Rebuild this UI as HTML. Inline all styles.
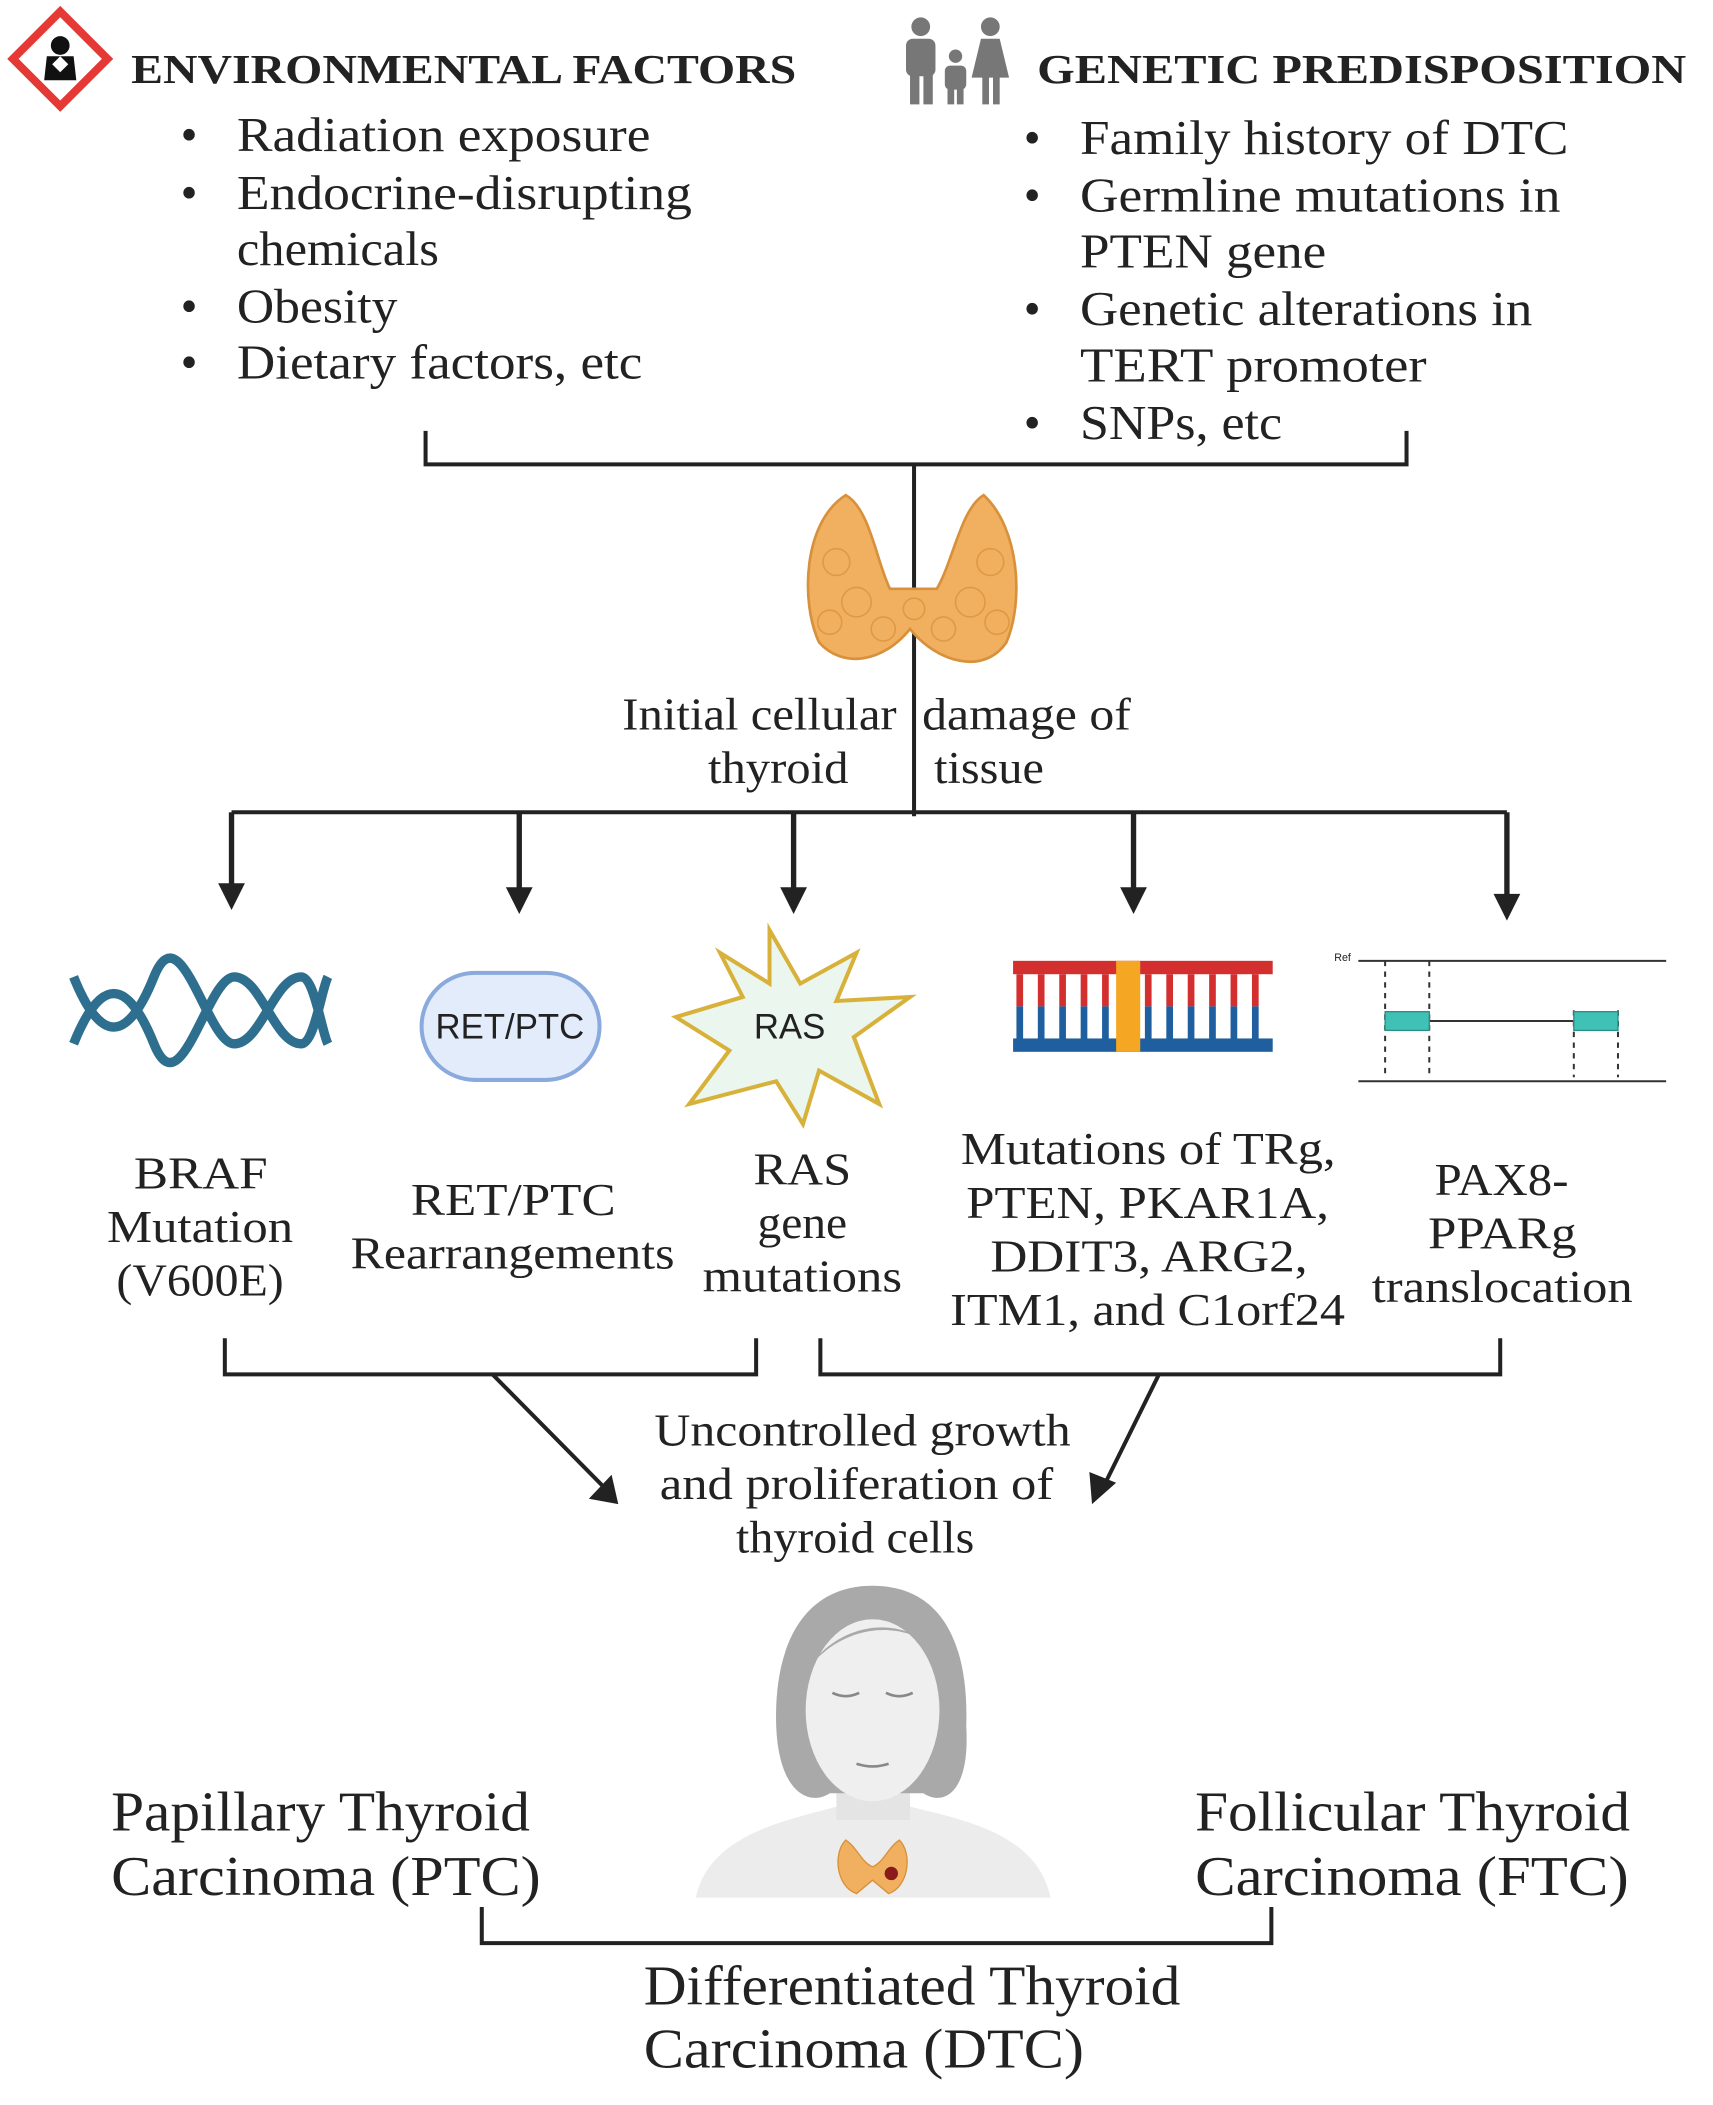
<!DOCTYPE html>
<html><head><meta charset="utf-8"><style>
html,body{margin:0;padding:0;background:#fff;}
svg{display:block;}
text{font-family:"Liberation Serif",serif;fill:#222;}
.s{font-family:"Liberation Sans",sans-serif;}
</style></head><body>
<svg width="1713" height="2105" viewBox="0 0 1280 1573" preserveAspectRatio="none" xmlns="http://www.w3.org/2000/svg">
<g transform="translate(45,44)">
<rect x="-25" y="-25" width="50" height="50" transform="rotate(45)" fill="#fff" stroke="#e53935" stroke-width="6"/>
<circle cx="0" cy="-10" r="7" fill="#111"/>
<path d="M-12 16 L-10 -2 L10 -2 L12 16 Z" fill="#111"/>
<path d="M-6 4 L0 -2 L6 4 L0 10Z" fill="#fff"/>
</g>
<g lengthAdjust="spacingAndGlyphs">
<text x="98" y="62" font-size="31" font-weight="bold" textLength="497" lengthAdjust="spacingAndGlyphs">ENVIRONMENTAL FACTORS</text>
<g font-size="36">
<text x="135" y="113">•</text><text x="177" y="113" textLength="309" lengthAdjust="spacingAndGlyphs">Radiation exposure</text>
<text x="135" y="156">•</text><text x="177" y="156" textLength="340" lengthAdjust="spacingAndGlyphs">Endocrine-disrupting</text>
<text x="177" y="198" textLength="151" lengthAdjust="spacingAndGlyphs">chemicals</text>
<text x="135" y="241">•</text><text x="177" y="241" textLength="120" lengthAdjust="spacingAndGlyphs">Obesity</text>
<text x="135" y="283">•</text><text x="177" y="283" textLength="303" lengthAdjust="spacingAndGlyphs">Dietary factors, etc</text>
</g>
</g>
<g fill="#777">
<circle cx="688" cy="20" r="7"/><rect x="677" y="29" width="22" height="28" rx="5"/><rect x="680" y="50" width="7" height="28"/><rect x="690" y="50" width="7" height="28"/>
<circle cx="714" cy="42" r="5"/><rect x="706" y="49" width="16" height="18" rx="4"/><rect x="708" y="62" width="5" height="16"/><rect x="715" y="62" width="5" height="16"/>
<circle cx="740" cy="20" r="7"/><path d="M733 29 L747 29 L754 58 L726 58Z"/><rect x="734" y="55" width="5" height="23"/><rect x="742" y="55" width="5" height="23"/>
</g>
<text x="775" y="62" font-size="31" font-weight="bold" textLength="485" lengthAdjust="spacingAndGlyphs">GENETIC PREDISPOSITION</text>
<g font-size="36">
<text x="765" y="115">•</text><text x="807" y="115" textLength="365" lengthAdjust="spacingAndGlyphs">Family history of DTC</text>
<text x="765" y="158">•</text><text x="807" y="158" textLength="359" lengthAdjust="spacingAndGlyphs">Germline mutations in</text>
<text x="807" y="200" textLength="184" lengthAdjust="spacingAndGlyphs">PTEN gene</text>
<text x="765" y="243">•</text><text x="807" y="243" textLength="338" lengthAdjust="spacingAndGlyphs">Genetic alterations in</text>
<text x="807" y="285" textLength="259" lengthAdjust="spacingAndGlyphs">TERT promoter</text>
<text x="765" y="328">•</text><text x="807" y="328" textLength="151" lengthAdjust="spacingAndGlyphs">SNPs, etc</text>
</g>
<g stroke="#222" stroke-width="3" fill="none">
<path d="M318 322 V347 H1051 V322"/>
<path d="M683 347 V610"/>
<path d="M173 607 H1126"/>
<path d="M168 1000 V1027 H565 V1000"/>
<path d="M613 1000 V1027 H1121 V1000"/>
<path d="M368 1027 L450 1110"/>
<path d="M866 1027 L826 1108"/>
<path d="M360 1425 V1452 H950 V1425"/>
</g>
<g fill="#222">
<path d="M163 660 L183 660 L173 680Z"/><rect x="171" y="607" width="4" height="55"/>
<path d="M378 663 L398 663 L388 683Z"/><rect x="386" y="607" width="4" height="58"/>
<path d="M583 663 L603 663 L593 683Z"/><rect x="591" y="607" width="4" height="58"/>
<path d="M837 663 L857 663 L847 683Z"/><rect x="845" y="607" width="4" height="58"/>
<path d="M1116 668 L1136 668 L1126 688Z"/><rect x="1124" y="607" width="4" height="63"/>
<path d="M440 1120 L462 1124 L457 1102Z"/>
<path d="M816 1124 L834 1108 L814 1100Z"/>
</g>
<g fill="#f0b060" stroke="#d9903a" stroke-width="2">
<path d="M632 370 C600 390 598 450 612 480 C630 500 660 495 680 470 C700 495 735 505 752 480 C765 450 762 395 735 370 C718 380 712 420 700 440 L665 440 C655 420 650 380 632 370Z"/>
</g>
<g fill="none" stroke="#d9903a" stroke-width="1.2" opacity="0.7">
<circle cx="625" cy="420" r="10"/><circle cx="640" cy="450" r="11"/><circle cx="620" cy="465" r="9"/><circle cx="660" cy="470" r="9"/>
<circle cx="740" cy="420" r="10"/><circle cx="725" cy="450" r="11"/><circle cx="745" cy="465" r="9"/><circle cx="705" cy="470" r="9"/><circle cx="683" cy="455" r="8"/>
</g>
<g font-size="34">
<text x="465" y="545" textLength="205" lengthAdjust="spacingAndGlyphs">Initial cellular</text>
<text x="529" y="585" textLength="105" lengthAdjust="spacingAndGlyphs">thyroid</text>
<text x="689" y="545" textLength="156" lengthAdjust="spacingAndGlyphs">damage of</text>
<text x="698" y="585" textLength="82" lengthAdjust="spacingAndGlyphs">tissue</text>
</g>
<g stroke="#2e6e8e" stroke-width="7" fill="none">
<path d="M55 780 C75 730 95 730 115 780 C135 830 155 730 175 730 C195 730 205 780 225 780 C235 780 240 740 245 730"/>
<path d="M55 730 C75 780 95 780 115 730 C135 680 155 780 175 780 C195 780 205 730 225 730 C235 730 240 770 245 780"/>
</g>
<rect x="315" y="727" width="133" height="80" rx="40" fill="#e3ecfb" stroke="#8aa9dd" stroke-width="3"/>
<text class="s" x="381" y="776" font-size="26" text-anchor="middle">RET/PTC</text>
<polygon points="575,695 598,735 640,712 625,748 680,745 638,775 657,825 612,800 600,840 580,808 515,825 545,785 505,760 555,745 538,712 575,735" fill="#eaf6ee" stroke="#d8b13a" stroke-width="3"/>
<text class="s" x="590" y="776" font-size="26" text-anchor="middle">RAS</text>
<rect x="757" y="718" width="194" height="10" fill="#d32f2f"/>
<rect x="757" y="776" width="194" height="10" fill="#1f5fa0"/>
<g stroke-width="5">
<g stroke="#d32f2f"><line x1="762" y1="728" x2="762" y2="752"/><line x1="778" y1="728" x2="778" y2="752"/><line x1="794" y1="728" x2="794" y2="752"/><line x1="810" y1="728" x2="810" y2="752"/><line x1="826" y1="728" x2="826" y2="752"/><line x1="858" y1="728" x2="858" y2="752"/><line x1="874" y1="728" x2="874" y2="752"/><line x1="890" y1="728" x2="890" y2="752"/><line x1="906" y1="728" x2="906" y2="752"/><line x1="922" y1="728" x2="922" y2="752"/><line x1="938" y1="728" x2="938" y2="752"/></g>
<g stroke="#1f5fa0"><line x1="762" y1="752" x2="762" y2="776"/><line x1="778" y1="752" x2="778" y2="776"/><line x1="794" y1="752" x2="794" y2="776"/><line x1="810" y1="752" x2="810" y2="776"/><line x1="826" y1="752" x2="826" y2="776"/><line x1="858" y1="752" x2="858" y2="776"/><line x1="874" y1="752" x2="874" y2="776"/><line x1="890" y1="752" x2="890" y2="776"/><line x1="906" y1="752" x2="906" y2="776"/><line x1="922" y1="752" x2="922" y2="776"/><line x1="938" y1="752" x2="938" y2="776"/></g>
</g>
<rect x="834" y="718" width="18" height="68" fill="#f5a623"/>
<g stroke="#333" stroke-width="1.5" fill="none">
<line x1="1015" y1="718" x2="1245" y2="718"/>
<line x1="1015" y1="808" x2="1245" y2="808"/>
<line x1="1068" y1="763" x2="1178" y2="763"/>
<path d="M1035 718 V805 M1068 718 V805 M1176 755 V805 M1209 755 V805" stroke-dasharray="4 4"/>
</g>
<rect x="1035" y="756" width="33" height="14" fill="#3fc1b5" stroke="#2a8f86"/>
<rect x="1176" y="756" width="33" height="14" fill="#3fc1b5" stroke="#2a8f86"/>
<text class="s" x="997" y="718" font-size="8">Ref</text>
<g font-size="34">
<text x="100" y="888" textLength="100" lengthAdjust="spacingAndGlyphs">BRAF</text>
<text x="80" y="928" textLength="139" lengthAdjust="spacingAndGlyphs">Mutation</text>
<text x="87" y="968" textLength="125" lengthAdjust="spacingAndGlyphs">(V600E)</text>
<text x="307" y="908" textLength="153" lengthAdjust="spacingAndGlyphs">RET/PTC</text>
<text x="262" y="948" textLength="242" lengthAdjust="spacingAndGlyphs">Rearrangements</text>
<text x="563" y="885" textLength="73" lengthAdjust="spacingAndGlyphs">RAS</text>
<text x="566" y="925" textLength="67" lengthAdjust="spacingAndGlyphs">gene</text>
<text x="525" y="965" textLength="149" lengthAdjust="spacingAndGlyphs">mutations</text>
<text x="718" y="870" textLength="280" lengthAdjust="spacingAndGlyphs">Mutations of TRg,</text>
<text x="722" y="910" textLength="271" lengthAdjust="spacingAndGlyphs">PTEN, PKAR1A,</text>
<text x="740" y="950" textLength="237" lengthAdjust="spacingAndGlyphs">DDIT3, ARG2,</text>
<text x="710" y="990" textLength="295" lengthAdjust="spacingAndGlyphs">ITM1, and C1orf24</text>
<text x="1072" y="893" textLength="100" lengthAdjust="spacingAndGlyphs">PAX8-</text>
<text x="1067" y="933" textLength="111" lengthAdjust="spacingAndGlyphs">PPARg</text>
<text x="1025" y="973" textLength="195" lengthAdjust="spacingAndGlyphs">translocation</text>
<text x="489" y="1080" textLength="311" lengthAdjust="spacingAndGlyphs">Uncontrolled growth</text>
<text x="493" y="1120" textLength="294" lengthAdjust="spacingAndGlyphs">and proliferation of</text>
<text x="550" y="1160" textLength="178" lengthAdjust="spacingAndGlyphs">thyroid cells</text>
</g>
<path d="M520 1418 C530 1370 590 1360 625 1350 L680 1350 C720 1360 775 1370 785 1418 Z" fill="#ececec"/>
<rect x="625" y="1320" width="55" height="40" fill="#e4e4e4"/>
<path d="M652 1185 C600 1185 578 1230 580 1290 C582 1340 605 1350 620 1340 L690 1340 C705 1350 725 1340 722 1290 C724 1230 705 1185 652 1185Z" fill="#a9a9a9"/>
<ellipse cx="652" cy="1278" rx="50" ry="68" fill="#efefef"/>
<path d="M605 1245 C630 1210 680 1205 705 1240 C690 1215 640 1205 605 1245Z" fill="#a9a9a9"/>
<g stroke="#888" stroke-width="2" fill="none"><path d="M622 1265 q10 5 20 0"/><path d="M662 1265 q10 5 20 0"/><path d="M640 1318 q12 4 24 0"/></g>
<g fill="#f0b060" stroke="#d9903a"><path d="M632 1375 C622 1385 625 1410 640 1415 L652 1405 L664 1415 C679 1410 682 1385 672 1375 C664 1380 660 1392 652 1395 C644 1392 640 1380 632 1375Z"/></g>
<circle cx="666" cy="1400" r="5" fill="#8b1a1a"/>
<g font-size="42">
<text x="83" y="1368" textLength="313" lengthAdjust="spacingAndGlyphs">Papillary Thyroid</text>
<text x="83" y="1416" textLength="321" lengthAdjust="spacingAndGlyphs">Carcinoma (PTC)</text>
<text x="893" y="1368" textLength="325" lengthAdjust="spacingAndGlyphs">Follicular Thyroid</text>
<text x="893" y="1416" textLength="324" lengthAdjust="spacingAndGlyphs">Carcinoma (FTC)</text>
<text x="481" y="1498" textLength="401" lengthAdjust="spacingAndGlyphs">Differentiated Thyroid</text>
<text x="481" y="1545" textLength="329" lengthAdjust="spacingAndGlyphs">Carcinoma (DTC)</text>
</g>
</svg>
</body></html>
